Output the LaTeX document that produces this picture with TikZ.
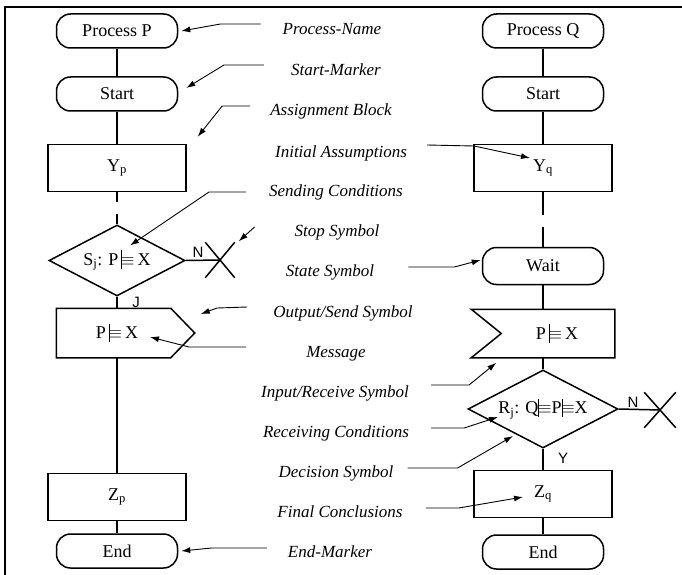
\documentclass[tikz,border=0pt]{standalone}
\usepackage{fontspec}
\setmainfont{Liberation Serif}
\newfontfamily\ynfont{Liberation Sans}
\usetikzlibrary{arrows.meta,shapes.geometric,shapes.misc}
\newcommand{\bel}{\ensuremath{\mathrel{\rule[-0.4ex]{0.7pt}{2.2ex}\mkern-1mu{\equiv}}}}
\tikzset{
  sym/.style={draw, line width=1.5pt, font=\fontsize{18}{20}\selectfont, inner sep=0pt, align=center},
  term/.style={sym, rounded corners=14pt, minimum width=121pt, minimum height=34pt},
  blk/.style={sym, minimum width=138pt, minimum height=47pt},
  dec/.style={sym, diamond, aspect=2},
  msg/.style={sym, draw=none, minimum height=48pt},
  stp/.style={cross out, draw, line width=1.5pt, minimum width=28pt, minimum height=34pt, inner sep=0pt},
  flow/.style={line width=1.5pt},
  lbl/.style={font=\fontsize{17}{19}\selectfont\itshape, inner sep=0pt, text height=12pt, text depth=4pt},
  yn/.style={font=\fontsize{15}{17}\selectfont\ynfont, inner sep=0pt},
  ldr/.style={-{Latex[length=9pt,width=6pt]}, line width=0.9pt},
  frame/.style={line width=1.4pt},
}

\begin{document}
\begin{tikzpicture}[x=1pt, y=-1pt]
  \useasboundingbox (0,0) rectangle (682,575);
  \draw[frame] (682,7) -- (5,7) -- (5,580);

  % process P
  \node[term] (pp) at (117,31) {Process P};
  \node[term] (ps) at (117,94) {Start};
  \node[blk] (yp) at (117,168) {Y\textsubscript{p}};
  \node[dec, minimum width=136pt, minimum height=71pt] (sp) at (117,260.5) {S\textsubscript{j}: P\,\bel\,X};
  \node[stp] (sx) at (220,260) {};
  \node[msg, minimum width=120pt] (op) at (117,333) {P\,\bel\,X};
  \coordinate (optip) at ([xshift=17pt]op.east);
  \draw[flow] (op.north west) -- ([xshift=-7pt]op.north east) -- (optip) -- ([xshift=-7pt]op.south east) -- (op.south west) -- cycle;
  \node[blk] (zp) at (117,497) {Z\textsubscript{p}};
  \node[term] (pe) at (117,551) {End};

  \draw[flow] (pp) -- (ps);
  \draw[flow] (ps) -- (yp);
  \draw[flow, dash pattern=on 10pt off 12pt] (yp) -- (sp);
  \draw[flow] (sp.east) -- (sx.center);
  \draw[flow] (sp) -- (op);
  \draw[flow] (op) -- (zp);
  \draw[flow] (zp) -- (pe);
  \node[yn] (n1) at (198,252) {N};
  \node[yn] (j1) at (136,302) {J};

  % process Q
  \node[term] (qp) at (543,31) {Process Q};
  \node[term] (qs) at (543,94) {Start};
  \node[blk] (yq) at (543,168) {Y\textsubscript{q}};
  \node[term, minimum height=37pt] (wt) at (543,266) {Wait};
  \node[msg, minimum width=142pt, minimum height=47pt] (iq) at (543,333.5) {\hspace*{28pt}P\,\bel\,X};
  \draw[flow] (iq.north west) -- (iq.north east) -- (iq.south east) -- (iq.south west) -- ([xshift=30pt]iq.west) -- cycle;
  \node[dec, minimum width=150pt, minimum height=78pt] (rq) at (543,409) {R\textsubscript{j}: Q\bel P\bel X};
  \node[stp, minimum width=30pt] (rx) at (660,410) {};
  \node[blk] (zq) at (543,494) {Z\textsubscript{q}};
  \node[term] (qe) at (543,552) {End};

  \draw[flow] (qp) -- (qs);
  \draw[flow] (qs) -- (yq);
  \draw[flow, dash pattern=on 23pt off 12pt] (yq) -- (wt);
  \draw[flow] (wt) -- (iq);
  \draw[flow] (iq) -- (rq);
  \draw[flow] (rq.east) -- (rx.center);
  \draw[flow] (rq) -- (zq);
  \draw[flow] (zq) -- (qe);
  \node[yn] (n2) at (633,402) {N};
  \node[yn] (y2) at (563,458) {Y};

  % legend
  \node[lbl] (lname) at (332,31) {Process-Name};
  \node[lbl] (lstart) at (336,72) {Start-Marker};
  \node[lbl] (lassign) at (331,112) {Assignment Block};
  \node[lbl] (linit) at (341,153) {Initial Assumptions};
  \node[lbl] (lsend) at (336,192) {Sending Conditions};
  \node[lbl] (lstop) at (337,232) {Stop Symbol};
  \node[lbl] (lstate) at (330,272) {State Symbol};
  \node[lbl] (lout) at (343,313) {Output/Send Symbol};
  \node[lbl] (lmsg) at (336,353) {Message};
  \node[lbl] (lin) at (335,393) {Input/Receive Symbol};
  \node[lbl] (lrecv) at (336,433) {Receiving Conditions};
  \node[lbl] (ldec) at (336,473) {Decision Symbol};
  \node[lbl] (lfin) at (340,513) {Final Conclusions};
  \node[lbl] (lend) at (330,553) {End-Marker};

  \draw[ldr] (lname.west) ++(-22,-7) -- ++(-40,0) -- ([xshift=3pt]pp.east);
  \draw[ldr] (lstart.west) ++(-27,-7) -- ++(-40,0) -- ([shift={(8,-6)}]ps.east);
  \draw[ldr] (lassign.west) ++(-20,-6) -- ++(-28,0) -- ([shift={(11,-7)}]yp.north east);
  \draw[ldr] (linit.east) ++(20,-8) -- ++(47,1) -- ([shift={(-13,-10)}]yq.center);
  \draw[ldr] (lsend.west) ++(-23,0) -- ++(-37,0) -- ([shift={(13,-15)}]sp.center);
  \draw[ldr] ([shift={(-40,-5)}]lstop.west) -- ([shift={(4,-1)}]sx.north east);
  \draw[ldr] (lstate.east) ++(34,-5) -- ++(46,0) -- ([shift={(-1,-6)}]wt.west);
  \draw[ldr] (lout.west) ++(-26,-6) -- ++(-30,1) -- ([shift={(6,-19)}]optip);
  \draw[ldr] (lmsg.west) ++(-60,-6) -- ++(-57,0) -- ([shift={(33,4)}]op.center);
  \draw[ldr] (lin.east) ++(22,-8) -- ++(38,0) -- ([shift={(25,5)}]iq.south west);
  \draw[ldr] (lrecv.east) ++(22,-5) -- ++(33,0) -- ([shift={(-45,8)}]rq.center);
  \draw[ldr] (ldec.east) ++(14,-5) -- ++(50,0) -- ([shift={(-30,27)}]rq.center);
  \draw[ldr] (lfin.east) ++(23,-5) -- ++(33,0) -- ([shift={(-20,3)}]zq.center);
  \draw[ldr] (lend.west) ++(-21,-5) -- ++(-55,0) -- ([xshift=3pt]pe.east);
\end{tikzpicture}
\end{document}
